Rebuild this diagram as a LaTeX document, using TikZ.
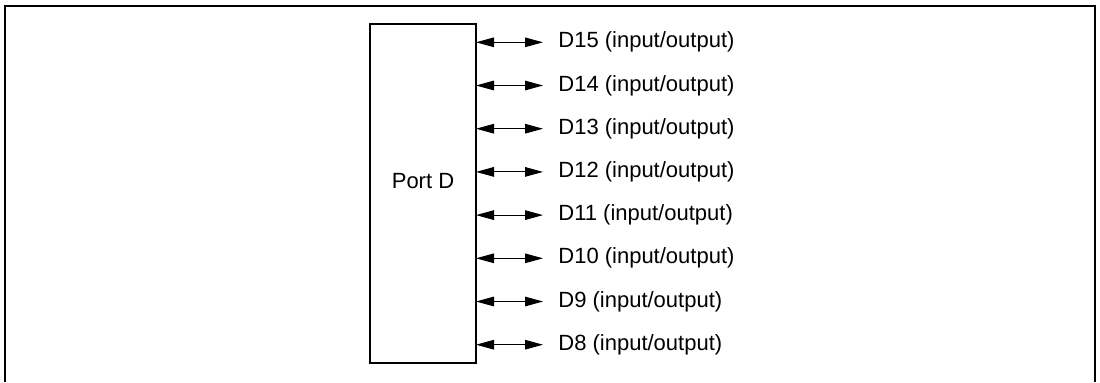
\documentclass[tikz,border=0pt]{standalone}
\usepackage{fontspec}
\setmainfont{Liberation Sans}
\usepackage{tikz}
\usetikzlibrary{arrows.meta, positioning}

\tikzset{
  portbox/.style={draw, line width=0.65pt, minimum width=53pt, minimum height=169.5pt, inner sep=0pt},
  sig/.style={anchor=west, inner sep=0pt, font=\fontsize{11}{13}\selectfont},
  io/.style={line width=0.5pt, {Triangle[length=9pt, width=4.8pt]}-{Triangle[length=9pt, width=4.8pt]}}
}

\begin{document}
\begin{tikzpicture}[x=0.5pt, y=-0.5pt]
  \useasboundingbox (0,0) rectangle (1100,382);

  % Frame
  \draw[line width=1pt] (4.5,382) -- (4.5,6) -- (1095,6) -- (1095,382);

  % Port block
  \node[portbox] (port) at (423,193.5) {};
  \node[sig, anchor=center] (portname) at (423,181) {Port D};

  % Data lines
  \foreach \i [count=\k from 0] in {15,14,...,8} {
    \coordinate (a\i) at (476,42.3+43.2*\k);
    \coordinate (b\i) at (543,42.3+43.2*\k);
    \node[sig] (d\i) at (558,42.3+43.2*\k) {D\i{} (input/output)};
    \draw[io] (a\i) -- (b\i);
  }
\end{tikzpicture}
\end{document}
